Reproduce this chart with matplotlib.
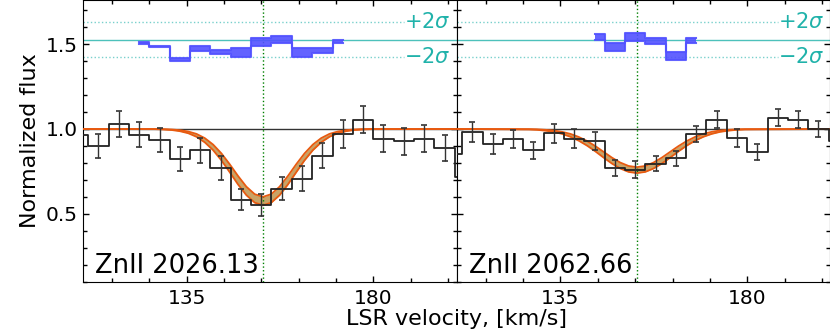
import numpy as np
import matplotlib
matplotlib.use('Agg')
import matplotlib.pyplot as plt
from matplotlib.ticker import MultipleLocator

# binned spectra (bin centres, km/s)
vel_bins = [108.9, 113.8, 118.7, 123.6, 128.5, 133.4, 138.3, 143.2, 148.1, 153.0,
            157.9, 162.8, 167.7, 172.6, 177.5, 182.4, 187.3, 192.2, 197.1, 202.0]

flux_2026 = [0.966, 0.900, 1.031, 0.966, 0.937, 0.823, 0.874, 0.770, 0.584, 0.551,
             0.649, 0.708, 0.843, 0.970, 1.055, 0.943, 0.927, 0.943, 0.888, 0.715]
err_2026 = [0.070, 0.073, 0.077, 0.075, 0.070, 0.070, 0.072, 0.070, 0.064, 0.064,
            0.068, 0.075, 0.075, 0.080, 0.080, 0.078, 0.078, 0.078, 0.076, 0.070]

flux_2062 = [0.855, 0.980, 0.913, 0.941, 0.874, 0.974, 0.943, 0.927, 0.770, 0.760,
             0.796, 0.826, 0.970, 1.055, 0.945, 0.867, 1.067, 1.055, 1.000, 0.927]
err_2062 = [0.055, 0.059, 0.058, 0.055, 0.051, 0.056, 0.054, 0.053, 0.045, 0.049,
            0.044, 0.047, 0.049, 0.051, 0.052, 0.047, 0.050, 0.048, 0.047, 0.050]

# model band (lower / upper edge)
model_vel = [110.0, 127.4, 129.4, 131.4, 133.4, 135.4, 137.4, 139.4, 141.4, 143.4, 145.4,
             147.4, 149.4, 151.4, 153.4, 155.4, 157.4, 159.4, 161.4, 163.4, 165.4,
             167.4, 169.4, 171.4, 173.4, 175.4, 177.4, 179.4, 200.0]
model_lo_2026 = [1.0, .999, .997, .994, .987, .975, .954, .921, .875, .815, .745, .673, .610, .566,
                 .550, .566, .610, .673, .745, .815, .875, .921, .954, .975, .987, .994, .997, .999, 1.0]
model_hi_2026 = [1.0, 1.0, .999, .997, .993, .985, .971, .946, .908, .856, .792, .723, .660, .616,
                 .600, .616, .660, .723, .792, .856, .908, .946, .971, .985, .993, .997, .999, 1.0, 1.0]
model_lo_2062 = [1.0, .997, .995, .990, .983, .971, .954, .931, .902, .868, .831, .796, .767, .747,
                 .740, .747, .767, .796, .831, .868, .902, .931, .954, .971, .983, .990, .995, .997, 1.0]
model_hi_2062 = [1.0, .999, .998, .995, .991, .983, .971, .953, .929, .899, .865, .831, .802, .782,
                 .775, .782, .802, .831, .865, .899, .929, .953, .971, .983, .991, .995, .998, .999, 1.0]

# residuals (shifted to 1.525)
res_vel_2026 = [123.6, 128.5, 133.4, 138.3, 143.2, 148.1, 153.0, 157.9, 162.8, 167.7, 172.6]
res_lo_2026 = [1.503, 1.481, 1.400, 1.458, 1.444, 1.425, 1.487, 1.506, 1.422, 1.447, 1.506]
res_hi_2026 = [1.511, 1.490, 1.418, 1.486, 1.466, 1.476, 1.539, 1.550, 1.476, 1.476, 1.522]

res_vel_2062 = [143.2, 148.1, 153.0, 157.9, 162.8, 167.7]
res_lo_2062 = [1.525, 1.461, 1.521, 1.500, 1.404, 1.509]
res_hi_2062 = [1.560, 1.509, 1.565, 1.535, 1.456, 1.539]

line_names = ['ZnII 2026.13', 'ZnII 2062.66']
v_comp = 153.4
res_zero = 1.525
res_plus = 1.628
res_minus = 1.422

teal = '#20b2aa'
orange = '#e85a10'
tan = '#c9a366'
blue = '#5252ff'

panels = [
    (flux_2026, err_2026, model_lo_2026, model_hi_2026, res_vel_2026, res_lo_2026, res_hi_2026),
    (flux_2062, err_2062, model_lo_2062, model_hi_2062, res_vel_2062, res_lo_2062, res_hi_2062),
]

fig = plt.figure(figsize=(8.3, 3.32), dpi=100)
ax_w = 0.4505
axes = [fig.add_axes([0.0996, 0.1515, ax_w, 0.8485]),
        fig.add_axes([0.0996 + ax_w, 0.1515, ax_w, 0.8485])]

for i, ax in enumerate(axes):
    flux, err, m_lo, m_hi, r_v, r_lo, r_hi = panels[i]

    ax.axhline(1.0, color='#333333', lw=1.0, zorder=1)
    ax.fill_between(model_vel, m_lo, m_hi, color=tan, lw=0, zorder=2)
    ax.plot(model_vel, m_lo, color=orange, lw=1.3, zorder=3)
    ax.plot(model_vel, m_hi, color=orange, lw=1.3, zorder=3)

    ax.plot(vel_bins, flux, drawstyle='steps-mid', color='#222222', lw=1.3, zorder=4)
    ax.errorbar(vel_bins, flux, yerr=err, ls='', color='#333333', elinewidth=1.0,
                capsize=2, capthick=1.2, zorder=4)

    # residuals
    ax.axhline(res_zero, color=teal, lw=1.0, alpha=0.8, zorder=1)
    ax.hlines([res_plus, res_minus], 110, 187.3, color=teal, lw=1.0, ls=':', alpha=0.6, zorder=1)
    ax.fill_between(r_v, r_lo, r_hi, step='mid', color=blue, lw=0, alpha=0.9, zorder=3)
    ax.plot(r_v, r_lo, drawstyle='steps-mid', color=blue, lw=1.5, alpha=0.9, zorder=3)
    ax.plot(r_v, r_hi, drawstyle='steps-mid', color=blue, lw=1.5, alpha=0.9, zorder=3)
    ax.text(198.6, res_plus, r'$+2\sigma$', ha='right', va='center', color=teal, fontsize=15)
    ax.text(198.6, res_minus, r'$-2\sigma$', ha='right', va='center', color=teal, fontsize=15)

    ax.axvline(v_comp, color='green', lw=1.0, ls=':', zorder=2)

    ax.text(0.032, 0.031, line_names[i], transform=ax.transAxes, fontsize=18.5,
            ha='left', va='baseline')

    ax.set_xlim(110, 200)
    ax.set_ylim(0.1, 1.76)
    ax.xaxis.set_major_locator(MultipleLocator(45))
    ax.xaxis.set_minor_locator(MultipleLocator(9))
    ax.yaxis.set_major_locator(MultipleLocator(0.5))
    ax.yaxis.set_minor_locator(MultipleLocator(0.1))
    ax.tick_params(which='both', direction='in', top=True, right=True, labelsize=14.5)
    ax.tick_params(which='major', length=4.5, width=1.0)
    ax.tick_params(which='minor', length=2.8, width=1.0)
    ax.tick_params(axis='x', pad=5)
    if i == 1:
        ax.tick_params(labelleft=False)

axes[0].set_ylabel('Normalized flux', fontsize=16)
fig.text(0.55, 0.04, 'LSR velocity, [km/s]', ha='center', va='center', fontsize=16)

fig.savefig('out.png', dpi=100)
